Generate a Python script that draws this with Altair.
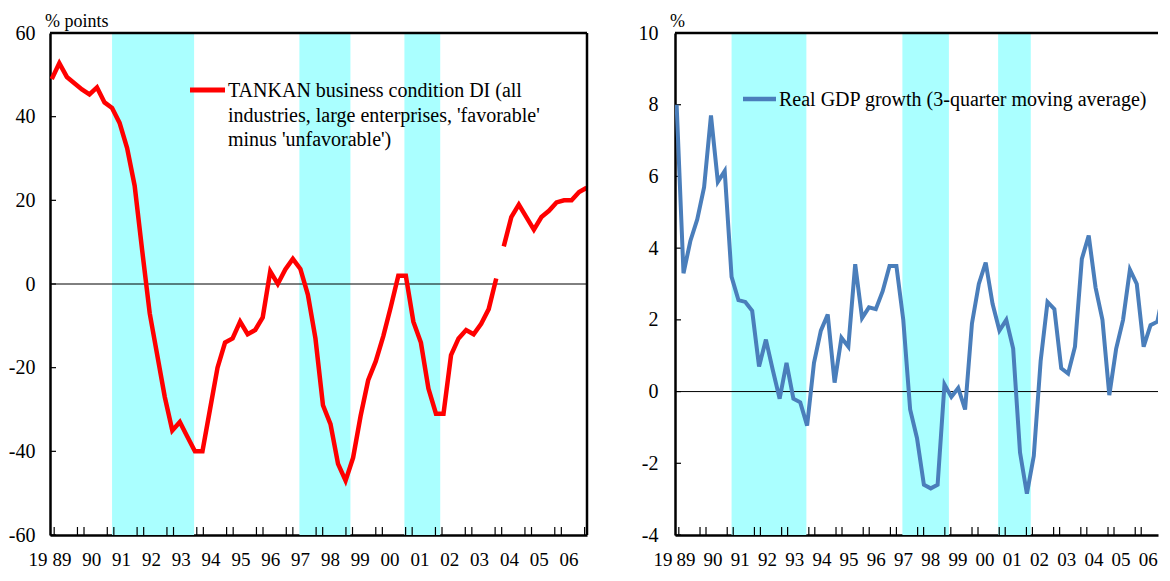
import altair as alt
import pandas as pd

# ---------------- data ----------------
quarters = [f"{y}Q{q}" for y in range(1989, 2007) for q in range(1, 5)]

# TANKAN business condition DI (old basis 1989Q1-2003Q4, new basis 2004Q1-2006Q4)
tankan_old = [49, 52.8, 49.5, 48, 46.5, 45.3, 47, 43.4, 42.1, 38.5,
              32.5, 23.5, 8, -7, -17, -27, -35, -33, -36.5, -40,
              -40, -30, -20, -14, -13, -9, -12, -11, -8, 3,
              0, 3.5, 6, 3.6, -2.6, -13, -29, -33.5, -43, -47,
              -41.5, -31.5, -23, -18.5, -12.5, -5.5, 2, 2, -9, -14,
              -25, -31, -31, -17, -13, -11, -12, -9.5, -6, 1.3]
tankan_new = [9, 16, 19, 16, 13, 16, 17.5, 19.5, 20, 20, 22, 23]

# Real GDP growth, 3-quarter moving average (%)
gdp = [8.0, 3.3, 4.2, 4.8, 5.7, 7.7, 5.85, 6.15, 3.2, 2.55,
       2.5, 2.25, 0.7, 1.45, 0.6, -0.2, 0.8, -0.2, -0.3, -0.95,
       0.8, 1.7, 2.15, 0.25, 1.5, 1.25, 3.55, 2.05, 2.35, 2.3,
       2.8, 3.5, 3.5, 2.0, -0.5, -1.3, -2.6, -2.7, -2.6, 0.2,
       -0.15, 0.1, -0.5, 1.9, 3.0, 3.6, 2.45, 1.7, 2.0, 1.2,
       -1.7, -2.85, -1.8, 0.85, 2.5, 2.3, 0.65, 0.5, 1.25, 3.7,
       4.35, 2.9, 2.0, -0.1, 1.2, 2.0, 3.4, 3.0, 1.25, 1.85,
       1.95, 2.9]

# recession periods (decimal years)
recession_start = [1991.08, 1997.36, 2000.88]
recession_end = [1993.83, 1999.07, 2002.08]

left_y_ticks = [-60, -40, -20, 0, 20, 40, 60]
right_y_ticks = [-4, -2, 0, 2, 4, 6, 8, 10]

label_years = list(range(1989, 2007))
year_labels = ["89", "90", "91", "92", "93", "94", "95", "96", "97", "98",
               "99", "00", "01", "02", "03", "04", "05", "06"]
first_label = "19"

left_legend = ["TANKAN business condition DI (all",
               "industries, large enterprises, 'favorable'",
               "minus 'unfavorable')"]
right_legend = ["Real GDP growth (3-quarter moving average)"]
left_unit = "% points"
right_unit = "%"

# ---------------- helpers ----------------
FONT = "Liberation Serif"
SHADE = "#aaffff"
RED = "#ff0000"
BLUE = "#4a7ebb"

t_pos = [1989.06 + i * 0.2525 for i in range(len(quarters))]

left_df = pd.DataFrame({"quarter": quarters, "t": t_pos,
                        "v": tankan_old + tankan_new,
                        "seg": ["old"] * len(tankan_old) + ["new"] * len(tankan_new)})
right_df = pd.DataFrame({"quarter": quarters, "t": t_pos, "v": gdp, "seg": ["gdp"] * len(gdp)})
rec_df = pd.DataFrame({"start": recession_start, "end": recession_end})
one = pd.DataFrame({"k": [0]})

H = 502


def panel(df, color, lw, W, x_max, y_dom, y_vals, unit, legend, leg, lab_pad, right_border):
    xs = alt.Scale(domain=[1989, x_max], nice=False, zero=False)
    ys = alt.Scale(domain=y_dom, nice=False, zero=False)
    xaxis = alt.Axis(title=None, labels=False, ticks=False, grid=False,
                     domainColor="black", domainWidth=2.5)
    yaxis = alt.Axis(title=None, values=y_vals, grid=False, ticks=False, tickSize=0,
                     labelPadding=lab_pad, labelFont=FONT, labelFontSize=20,
                     labelColor="black", domainColor="black", domainWidth=2.5,
                     labelExpr="datum.value < 0 ? '-' + abs(datum.value) : '' + datum.value")

    tick_df = pd.DataFrame({"p": [y + d for y in range(1989, 2008) for d in (-0.08, 0.14)
                                  if 1989.0 < y + d < x_max - 0.05]})
    lab_df = pd.DataFrame({"pos": [y + 0.4 for y in label_years], "lab": year_labels})
    yt_df = pd.DataFrame({"v": y_vals})

    layers = []
    layers.append(alt.Chart(rec_df).mark_rect(color=SHADE).encode(
        x=alt.X("start:Q", scale=xs, axis=xaxis), x2="end:Q",
        y=alt.value(0), y2=alt.value(H)))
    layers.append(alt.Chart(pd.DataFrame({"z": [0]})).mark_rule(color="black", strokeWidth=1).encode(
        y=alt.Y("z:Q", scale=ys, axis=yaxis), x=alt.value(0), x2=alt.value(W)))
    layers.append(alt.Chart(yt_df).mark_rule(color="black", strokeWidth=1.2).encode(
        y=alt.Y("v:Q", scale=ys, axis=yaxis), x=alt.value(0), x2=alt.value(6)))
    layers.append(alt.Chart(tick_df).mark_rule(color="black", strokeWidth=1.2).encode(
        x=alt.X("p:Q", scale=xs, axis=xaxis), y=alt.value(H - 8), y2=alt.value(H)))
    layers.append(alt.Chart(df).mark_line(color=color, strokeWidth=lw, clip=True).encode(
        x=alt.X("t:Q", scale=xs, axis=xaxis),
        y=alt.Y("v:Q", scale=ys, axis=yaxis),
        detail="seg:N", order="t:Q"))
    # legend key
    layers.append(alt.Chart(one).mark_rule(color=color, strokeWidth=lw + 0.5).encode(
        x=alt.value(leg[0]), x2=alt.value(leg[1]), y=alt.value(leg[2])))
    layers.append(alt.Chart(one).mark_text(font=FONT, fontSize=20, align="left",
                                           baseline="alphabetic", lineBreak="\n",
                                           lineHeight=24.5, color="black").encode(
        x=alt.value(leg[3]), y=alt.value(leg[2] + 7), text=alt.value("\n".join(legend))))
    # unit label
    layers.append(alt.Chart(one).mark_text(font=FONT, fontSize=18, align="left",
                                           baseline="middle", color="black").encode(
        x=alt.value(-5), y=alt.value(-11), text=alt.value(unit)))
    # year labels
    layers.append(alt.Chart(lab_df).mark_text(font=FONT, fontSize=19, align="center",
                                              baseline="middle", color="black").encode(
        x=alt.X("pos:Q", scale=xs, axis=xaxis), y=alt.value(H + 25), text="lab:N"))
    layers.append(alt.Chart(one).mark_text(font=FONT, fontSize=19, align="center",
                                           baseline="middle", color="black").encode(
        x=alt.value(-12), y=alt.value(H + 25), text=alt.value(first_label)))
    # frame: top (and right) border
    layers.append(alt.Chart(one).mark_rule(color="black", strokeWidth=2.5).encode(
        x=alt.value(0), x2=alt.value(W), y=alt.value(0)))
    if right_border:
        layers.append(alt.Chart(one).mark_rule(color="black", strokeWidth=2.5).encode(
            x=alt.value(W), y=alt.value(0), y2=alt.value(H)))
    return alt.layer(*layers).properties(width=W, height=H)


left = panel(left_df, RED, 4.5, 537, 2007.0, [-60, 60], left_y_ticks, left_unit,
             left_legend, (140, 175, 57, 178), 15, True)
right = panel(right_df, BLUE, 4.0, 483, 1989 + 483 / 27.2, [-4, 10], right_y_ticks,
              right_unit, right_legend, (68, 101, 66, 104), 17, False)

chart = alt.hconcat(left, right, spacing=49).properties(
    padding={"top": 5, "left": 0, "right": 0, "bottom": 0}, background="white"
).configure_view(stroke=None)

chart.save("out.html", embed_options={"renderer": "svg", "actions": False})
